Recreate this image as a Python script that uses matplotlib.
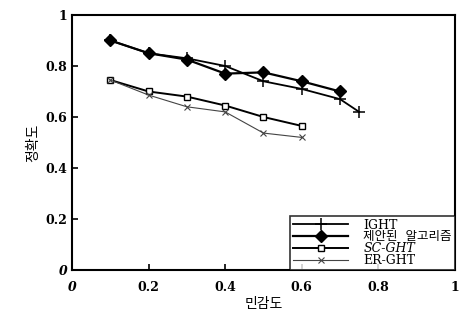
import matplotlib.pyplot as plt

plt.rcParams['font.family'] = ['DejaVu Serif', 'Noto Sans CJK KR']

sens = [0.1, 0.2, 0.3, 0.4, 0.5, 0.6, 0.7, 0.75]
ight = [0.90, 0.85, 0.83, 0.80, 0.74, 0.71, 0.67, 0.62]

sens_prop = [0.1, 0.2, 0.3, 0.4, 0.5, 0.6, 0.7]
proposed = [0.90, 0.85, 0.825, 0.77, 0.775, 0.74, 0.70]

sens_sc = [0.1, 0.2, 0.3, 0.4, 0.5, 0.6]
sc_ght = [0.745, 0.70, 0.68, 0.645, 0.60, 0.565]
er_ght = [0.745, 0.686, 0.64, 0.62, 0.537, 0.52]

ticks = [0, 0.2, 0.4, 0.6, 0.8, 1]
tick_labels = ['0', '0.2', '0.4', '0.6', '0.8', '1']

fig = plt.figure(figsize=(4.59, 3.25), dpi=100)
ax = fig.add_axes([0.157, 0.169, 0.834, 0.785])

ax.plot(sens, ight, color='black', lw=1.3, marker='+', ms=8, mew=1.1, label='IGHT')
ax.plot(sens_prop, proposed, color='black', lw=1.6, marker='D', ms=6, label='제안된  알고리즘')
ax.plot(sens_sc, sc_ght, color='black', lw=1.4, marker='s', ms=5, mfc='white', label='SC-GHT')
ax.plot(sens_sc, er_ght, color='#444444', lw=0.8, marker='x', ms=4, mew=0.8, label='ER-GHT')

ax.set_xlim(0, 1)
ax.set_ylim(0, 1)
ax.set_xticks(ticks)
ax.set_xticklabels(tick_labels, fontweight='bold', fontsize=9)
ax.set_yticks(ticks)
ax.set_yticklabels(tick_labels, fontweight='bold', fontsize=9)
ax.get_xticklabels()[0].set_style('italic')
ax.get_yticklabels()[0].set_style('italic')
ax.tick_params(direction='in', length=4, width=1.2)
ax.tick_params(axis='x', pad=8)
for s in ax.spines.values():
    s.set_linewidth(1.5)

ax.set_xlabel('민감도', fontsize=10, family=['Noto Sans CJK KR'], labelpad=2)
ax.set_ylabel('정확도', fontsize=10, family=['Noto Sans CJK KR'])

# legend sits in the lower right corner, wide handles like the scan
leg = ax.legend(loc='lower right', borderaxespad=0, fancybox=False,
                edgecolor='black', fontsize=9, handlelength=4.4,
                labelspacing=-0.1, borderpad=0.25, handletextpad=1.2)
leg.get_frame().set_linewidth(1.2)
leg.get_texts()[2].set_style('italic')

fig.savefig('out.png', dpi=100)
